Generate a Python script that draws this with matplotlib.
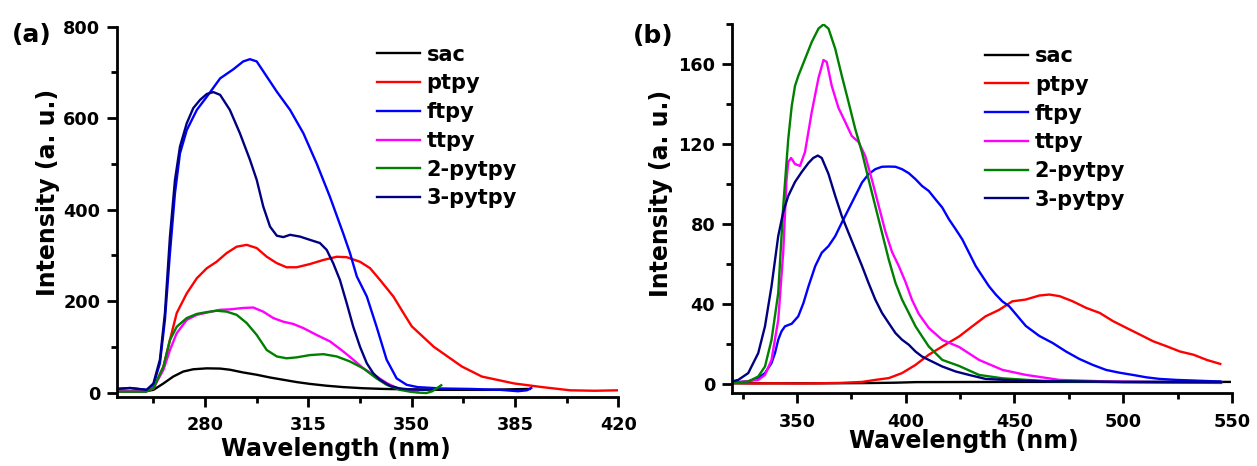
import matplotlib
matplotlib.use("Agg")
import matplotlib.pyplot as plt
from matplotlib.ticker import MultipleLocator

plt.rcParams['font.family'] = ['DejaVu Sans']
plt.rcParams['font.weight'] = 'bold'

labels = ["sac", "ptpy", "ftpy", "ttpy", "2-pytpy", "3-pytpy"]
colors = ["#000000", "#ff0000", "#0000ff", "#ff00ff", "#008000", "#000080"]

# ---- panel (a) ----
sac_a_x = [250, 255, 260, 262.5, 265.9, 269.2, 272.6, 276, 280.6, 285.1, 288.4, 292.9, 297.5, 302,
           306.5, 311, 315.5, 321.2, 326.8, 333.6, 340.4, 349.4, 360, 375, 390]
sac_a_y = [3, 3, 3, 6, 20, 35, 46, 51, 53, 52.5, 50, 44, 39, 33, 28, 23, 19, 15, 12, 9.5, 8, 7, 6, 6, 8]

ptpy_a_x = [250, 255, 260, 262.5, 265.9, 268.1, 270.4, 273.8, 277.2, 280.6, 283.9, 287.3, 290.7, 294.1,
            297.5, 300.9, 304.3, 307.6, 311, 315.5, 320.1, 324.6, 328, 332.5, 335.9, 339.3, 343.8, 347.2,
            350, 357.5, 367, 373.8, 384.7, 394.2, 403.7, 412, 420]
ptpy_a_y = [3, 3, 3, 9, 57, 115, 174, 217, 250, 272, 286, 305, 319, 323, 316, 297, 283, 274, 274, 281,
            290, 297, 296, 286, 272, 246, 210, 174, 145, 100, 57, 35, 20, 12, 5, 4, 5]

ftpy_a_x = [250, 254.6, 260.2, 262.5, 264.7, 266.4, 268.1, 269.8, 271.5, 273.8, 277.2, 280.6, 285.1,
            289.6, 292.9, 295.2, 297.5, 300.9, 304.3, 308.8, 313.3, 317.8, 322.3, 326.8, 329.1, 331.4,
            334.8, 338.1, 341.5, 344.9, 348.3, 352, 360, 370, 380, 386, 389, 390.5]
ftpy_a_y = [8, 10, 6, 17, 64, 159, 305, 436, 523, 574, 618, 647, 687, 707, 724, 729, 724, 691, 658,
            618, 567, 501, 428, 348, 305, 254, 210, 144, 72, 31, 17, 12, 9, 8, 6, 3, 5, 10]

ttpy_a_x = [250, 255, 260, 262.5, 265.9, 268.1, 270.4, 273.8, 277.2, 280.6, 285.1, 288.4, 292.9, 296.3,
            299.7, 303.1, 306.5, 309.9, 313.3, 317.8, 322.3, 326.8, 330.2, 333.6, 338.1, 341.5, 344.9,
            348.3, 352]
ttpy_a_y = [3, 3, 3, 9.5, 50, 93, 130, 159, 170, 175, 181, 182, 185, 186, 177, 163, 155, 150, 141, 126,
            112, 90, 72, 53, 35, 21, 10, 6, 4]

py2_a_x = [250, 255, 260, 262.5, 265.9, 268.1, 270.4, 273.8, 277.2, 280.6, 283.9, 287.3, 290.7, 294.1,
           297.5, 300.9, 304.3, 307.6, 311, 315.5, 320.1, 324.6, 329.1, 333.6, 338.1, 341.5, 346, 349.4,
           352, 355, 357, 360]
py2_a_y = [2, 2, 2, 9.5, 57, 115, 144, 163, 172, 176, 179, 177, 170, 152, 126, 93, 79, 75, 77, 82, 84,
           79, 68, 53, 31, 17, 6, 2, 0, -1, 3, 16]

py3_a_x = [250, 254.6, 260.2, 262.5, 264.7, 266.4, 268.1, 269.8, 271.5, 273.8, 276, 278.3, 280.6, 282.8,
           285.1, 288.4, 291.8, 295.2, 297.5, 299.7, 302, 304.3, 306.5, 308.8, 312.2, 315.5, 318.9, 321.2,
           323.4, 325.7, 328, 330.2, 332.5, 334.8, 337, 339.3, 342.6, 346, 349.4, 355]
py3_a_y = [8, 10, 6, 20, 72, 174, 341, 465, 538, 589, 622, 640, 653, 657, 651, 618, 567, 509, 465, 407,
           363, 343, 340, 345, 341, 334, 327, 312, 283, 246, 195, 144, 100, 64, 42, 28, 15, 9, 7, 6]

# ---- panel (b) ----
sac_b_x = [320, 340, 360, 380, 395, 405, 450, 500, 549]
sac_b_y = [0.3, 0.3, 0.3, 0.4, 0.6, 0.9, 1.0, 1.0, 1.0]

ptpy_b_x = [320, 330, 340, 350, 360, 370, 380, 386, 392.2, 398.3, 404.5, 410.6, 416.8, 424.5, 430.6,
            436.7, 442.9, 449, 455.2, 461.4, 466, 470.7, 476.8, 483, 489.2, 495.3, 501.5, 507.6, 513.8,
            520, 526.1, 532.3, 538.4, 544.6]
ptpy_b_y = [0.5, 0.2, 0.3, 0.2, 0.3, 0.5, 1, 2, 2.9, 5.4, 9.5, 14.6, 18.7, 23.7, 28.8, 33.8, 37, 41.3,
            42.2, 44.2, 44.7, 43.9, 41.3, 38, 35.5, 31.4, 28, 24.7, 21.3, 18.8, 16.2, 14.6, 12, 10]

ftpy_b_x = [320, 327.6, 332.2, 335.3, 338.3, 339.9, 341.4, 342.9, 344.5, 347.6, 350.6, 353, 355.3, 358.4,
            361.4, 364.5, 367.6, 370.6, 373.7, 376.8, 379.9, 382.9, 386, 389.1, 392.2, 395.3, 398.3,
            401.4, 404.5, 407.5, 410.6, 413.7, 416.8, 419.9, 423, 426, 429.1, 432.2, 435.2, 438.3, 441.4,
            444.4, 447.6, 455.2, 461.4, 467.5, 473.7, 479.8, 486, 492.1, 498.3, 504.4, 510.6, 516.7,
            524.4, 532.1, 544.4]
ftpy_b_y = [0.7, 1.2, 2.9, 5.4, 10.4, 15.4, 22.1, 26.3, 28.8, 30.1, 33.8, 40.5, 48.8, 58.9, 65.6, 68.9,
            73.9, 80.6, 87.3, 94, 100.7, 104.9, 107.4, 108.6, 108.7, 108.6, 107.4, 105.4, 102.4, 99,
            96.5, 92.3, 88.2, 82.3, 77.3, 72.3, 65.6, 58.9, 53.9, 48.8, 44.7, 41.3, 38.8, 29, 24, 20.5,
            16.2, 12.5, 9.5, 7, 5.6, 4.5, 3.3, 2.5, 2, 1.7, 1.2]

ttpy_b_x = [320, 332.2, 335.3, 338.3, 341.4, 343.7, 345.2, 346, 347.3, 349.1, 351.4, 353.7, 356.8,
            359.9, 362.2, 363.7, 366, 369.1, 372.2, 375.2, 378.3, 381.4, 384.5, 387.6, 390.7, 393.7,
            396.8, 399.9, 402.9, 406, 410.6, 416.8, 424.5, 433.7, 444.5, 455.3, 470.7, 493.8, 520, 545]
ttpy_b_y = [0.5, 2, 4.5, 12, 32, 66, 102, 111, 113, 110, 109, 116, 136, 153, 162, 161, 149, 138, 131,
            124, 121, 114, 102, 89, 76, 66, 59, 51, 42, 35, 28, 22, 18.5, 12, 7, 4.5, 2, 1.2, 0.8, 0.8]

py2_b_x = [320, 327.6, 332.2, 335.3, 338.3, 341.4, 343.7, 346, 347.6, 349.1, 350.6, 353.7, 356.8, 359.9,
           362.2, 364.5, 367.6, 370.6, 373.7, 376.8, 379.9, 382.9, 386, 389.1, 392.2, 395.3, 398.3,
           401.4, 404.5, 407.5, 410.6, 416.8, 424.5, 433.7, 444.5, 463, 500, 545]
py2_b_y = [0.5, 1.2, 3.7, 8.7, 22, 45.5, 89, 122.5, 139, 149, 154, 162.5, 171, 177.7, 179.8, 177.7,
           167.6, 154.2, 141, 127.5, 115.8, 102.4, 89, 75.6, 62.2, 50.5, 42.2, 35.5, 28.8, 23.8, 18.7,
           12, 9, 4.5, 2.8, 1.5, 0.8, 0.5]

py3_b_x = [320, 323, 327.6, 332.2, 335.3, 338.3, 341.4, 343.7, 346, 349.1, 352.2, 355.3, 357.5, 359.6,
           361.4, 364.5, 367.6, 370.6, 373.7, 376.8, 379.9, 382.9, 386, 389.1, 392.2, 395.3, 398.3,
           401.4, 404.5, 407.5, 410.6, 416.8, 423, 429.1, 436.7, 455, 500, 545]
py3_b_y = [1.2, 2, 5.4, 15.4, 28.8, 48.8, 74, 86, 94, 101, 106, 110.5, 113, 114.2, 113, 105, 94, 84,
           75.6, 67.3, 59, 50.5, 42.2, 35.5, 30.4, 25.4, 22.1, 19.6, 16.2, 13.7, 12, 8.7, 6.2, 4.5, 2.5,
           1.5, 1, 1]

series_a = [(sac_a_x, sac_a_y), (ptpy_a_x, ptpy_a_y), (ftpy_a_x, ftpy_a_y),
            (ttpy_a_x, ttpy_a_y), (py2_a_x, py2_a_y), (py3_a_x, py3_a_y)]
series_b = [(sac_b_x, sac_b_y), (ptpy_b_x, ptpy_b_y), (ftpy_b_x, ftpy_b_y),
            (ttpy_b_x, ttpy_b_y), (py2_b_x, py2_b_y), (py3_b_x, py3_b_y)]

fig = plt.figure(figsize=(12.57, 4.66), dpi=100)
ax_a = fig.add_axes([0.0927, 0.1487, 0.3992, 0.794])
ax_b = fig.add_axes([0.5821, 0.156, 0.398, 0.7925])


def draw(ax, series, xlim, ylim, xmaj, xmin, ymaj, ymin, leg_anchor, xlab_pos, ylab_pos):
    for (x, y), lab, c in zip(series, labels, colors):
        ax.plot(x, y, color=c, lw=1.7, label=lab)
    ax.set_xlim(*xlim)
    ax.set_ylim(*ylim)
    ax.xaxis.set_major_locator(MultipleLocator(xmaj))
    ax.xaxis.set_minor_locator(MultipleLocator(xmin))
    ax.yaxis.set_major_locator(MultipleLocator(ymaj))
    ax.yaxis.set_minor_locator(MultipleLocator(ymin))
    ax.spines['top'].set_visible(False)
    ax.spines['right'].set_visible(False)
    for s in ('left', 'bottom'):
        ax.spines[s].set_linewidth(2)
    ax.tick_params(which='major', direction='out', length=7, width=2, labelsize=12.7)
    ax.tick_params(which='minor', direction='out', length=4.5, width=2)
    ax.tick_params(axis='x', which='major', pad=7)
    ax.tick_params(axis='y', which='major', pad=4.8)
    ax.set_xlabel("Wavelength (nm)", fontsize=17, fontweight='bold')
    ax.set_ylabel("Intensity (a. u.)", fontsize=17, fontweight='bold')
    ax.xaxis.set_label_coords(*xlab_pos)
    ax.yaxis.set_label_coords(*ylab_pos)
    leg = ax.legend(loc='upper left', bbox_to_anchor=leg_anchor, frameon=False, fontsize=15,
                    handlelength=2.07, handletextpad=0.32, labelspacing=0.42,
                    borderpad=0, borderaxespad=0)
    for t in leg.get_texts():
        t.set_fontweight('bold')


draw(ax_a, series_a, (250, 420), (-9, 800), 35, 17.5, 200, 100,
     (0.5185, 0.9516), (0.437, -0.109), (-0.1126, 0.552))
ax_a.set_xticks([280, 315, 350, 385, 420])

draw(ax_b, series_b, (320, 550), (-4.7, 180), 50, 25, 40, 20,
     (0.5063, 0.9404), (0.464, -0.098), (-0.1167, 0.54))

fig.text(0.0252, 0.9249, "(a)", fontsize=18, fontweight='bold', ha='center', va='center')
fig.text(0.5197, 0.9238, "(b)", fontsize=18, fontweight='bold', ha='center', va='center')

fig.savefig("out.png", dpi=100)
